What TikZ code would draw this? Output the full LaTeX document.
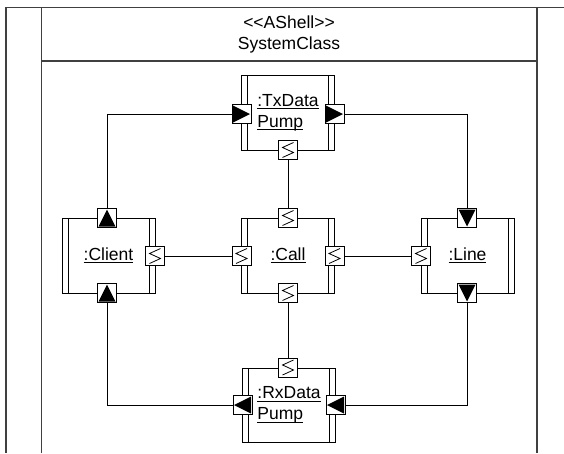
\documentclass[tikz,border=0pt]{standalone}
\usepackage{fontspec}
\setmainfont{Liberation Sans}
\newcommand\myul[1]{\setbox0\hbox{#1}\rlap{\rule[-2.8pt]{\wd0}{0.9pt}}\box0}
\begin{document}
\begin{tikzpicture}[x=1pt,y=-1pt,
  frame/.style={line width=1.3pt, draw=black!75},
  comp/.style={draw, line width=1pt, minimum width=93pt, minimum height=75pt, inner sep=0pt, align=left,
    font=\fontsize{17.5}{21}\selectfont,
    path picture={
      \draw[line width=1pt] ([xshift=6pt]path picture bounding box.north west) -- ([xshift=6pt]path picture bounding box.south west);
      \draw[line width=1pt] ([xshift=-6pt]path picture bounding box.north east) -- ([xshift=-6pt]path picture bounding box.south east);}},
  port/.style={draw, fill=white, line width=0.8pt, minimum size=19pt, inner sep=0pt},
  triR/.style={port, path picture={\fill[black] ([xshift=1pt,yshift=-1pt]path picture bounding box.north west) -- ([xshift=-1pt]path picture bounding box.east) -- ([xshift=1pt,yshift=1pt]path picture bounding box.south west) -- cycle;}},
  triL/.style={port, path picture={\fill[black] ([xshift=-1pt,yshift=-1pt]path picture bounding box.north east) -- ([xshift=1pt]path picture bounding box.west) -- ([xshift=-1pt,yshift=1pt]path picture bounding box.south east) -- cycle;}},
  triU/.style={port, path picture={\fill[black] ([xshift=1pt,yshift=1pt]path picture bounding box.south west) -- ([yshift=-1pt]path picture bounding box.north) -- ([xshift=-1pt,yshift=1pt]path picture bounding box.south east) -- cycle;}},
  triD/.style={port, path picture={\fill[black] ([xshift=1pt,yshift=-1pt]path picture bounding box.north west) -- ([yshift=1pt]path picture bounding box.south) -- ([xshift=-1pt,yshift=-1pt]path picture bounding box.north east) -- cycle;}},
  zig/.style={port, path picture={\draw[black, line width=0.8pt, shift={(path picture bounding box.center)}] (5.5,-7.5) -- (-5.5,-2.5) -- (5.5,2.5) -- (-5.5,7.5);}},
  conn/.style={line width=1pt},
  hdr/.style={font=\fontsize{17.5}{21}\selectfont, inner sep=0pt}
]
\fill[white] (0,0) rectangle (564,453);
\useasboundingbox (0,0) rectangle (564,453);
% frame
\draw[frame] (564,7.5) -- (6,7.5) -- (6,453);
\draw[frame] (41.5,7.5) -- (41.5,453);
\draw[frame] (537,7.5) -- (537,453);
\draw[frame] (41.5,61) -- (537,61);
\node[hdr] (st) at (289,22) {<{}<AShell>{}>};
\node[hdr] (sc) at (289,45) {SystemClass};
% components
\node[comp] (tx) at (288,112.5) {\myul{:TxData}\\\myul{Pump}};
\node[comp] (cl) at (108.5,255.5) {\myul{:Client}};
\node[comp] (ca) at (288,255.5) {\myul{:Call}};
\node[comp] (li) at (467.5,255.5) {\myul{:Line}};
\node[comp, minimum height=74pt] (rx) at (289,405) {\myul{:RxData}\\\myul{Pump}};
% ports
\node[triR] (txL) at (241.5,114) {};
\node[triR] (txR) at (334.5,114) {};
\node[zig]  (txB) at (288,150) {};
\node[triU] (clT) at (107,218) {};
\node[triU] (clB) at (107,293) {};
\node[zig]  (clR) at (155,256) {};
\node[zig]  (caT) at (288,218) {};
\node[zig]  (caL) at (241.5,256) {};
\node[zig]  (caR) at (334.5,256) {};
\node[zig]  (caB) at (288,293) {};
\node[triD] (liT) at (467,218) {};
\node[triD] (liB) at (467,293) {};
\node[zig]  (liL) at (421,256) {};
\node[zig]  (rxT) at (288,367.5) {};
\node[triL] (rxL) at (242.5,405) {};
\node[triL] (rxR) at (335.5,405) {};
% connectors
\draw[conn] (txL.west) -| (clT.north);
\draw[conn] (txR.east) -| (liT.north);
\draw[conn] (txB.south) -- (caT.north);
\draw[conn] (clR.east) -- (caL.west);
\draw[conn] (caR.east) -- (liL.west);
\draw[conn] (caB.south) -- (rxT.north);
\draw[conn] (clB.south) |- (rxL.west);
\draw[conn] (liB.south) |- (rxR.east);
\end{tikzpicture}
\end{document}
